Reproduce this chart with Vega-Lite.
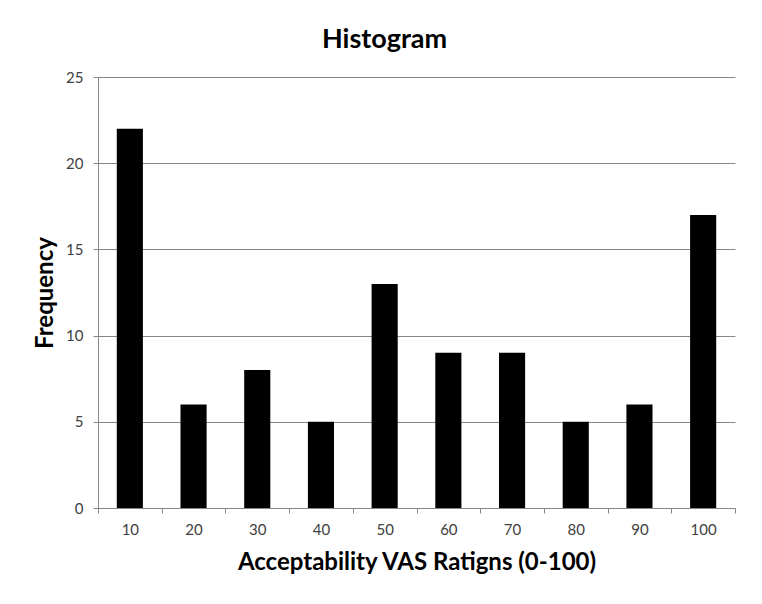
{
  "$schema": "https://vega.github.io/schema/vega-lite/v6.json",
  "width": 637,
  "height": 431,
  "autosize": {"type": "none"},
  "padding": {"left": 98, "top": 77, "right": 27, "bottom": 96},
  "background": "white",
  "title": {"text": "Histogram", "fontSize": 27, "font": "Lato", "fontWeight": "bold", "color": "black", "anchor": "middle", "frame": "bounds", "offset": 16},
  "data": {"values": [
    {"bin": "10", "count": 22},
    {"bin": "20", "count": 6},
    {"bin": "30", "count": 8},
    {"bin": "40", "count": 5},
    {"bin": "50", "count": 13},
    {"bin": "60", "count": 9},
    {"bin": "70", "count": 9},
    {"bin": "80", "count": 5},
    {"bin": "90", "count": 6},
    {"bin": "100", "count": 17}
  ]},
  "mark": {"type": "bar", "color": "black", "width": {"band": 0.41}},
  "encoding": {
    "x": {"field": "bin", "type": "ordinal", "sort": null,
      "scale": {"paddingInner": 0, "paddingOuter": 0},
      "axis": {"title": "Acceptability VAS Ratigns (0-100)", "labelAngle": 0, "tickBand": "extent", "grid": false,
        "domainColor": "#868686", "tickColor": "#868686", "tickSize": 5, "labelPadding": 9,
        "labelFont": "Lato", "labelFontSize": 15, "labelColor": "#404040",
        "titleFont": "Lato", "titleFontSize": 24, "titleFontWeight": "bold", "titleColor": "black", "titlePadding": 13}},
    "y": {"field": "count", "type": "quantitative",
      "scale": {"domain": [0, 25]},
      "axis": {"title": "Frequency", "values": [0, 5, 10, 15, 20, 25], "grid": true, "gridColor": "#868686",
        "domainColor": "#868686", "tickColor": "#868686", "tickSize": 5, "labelPadding": 10,
        "labelFont": "Lato", "labelFontSize": 15, "labelColor": "#404040",
        "titleFont": "Lato", "titleFontSize": 24, "titleFontWeight": "bold", "titleColor": "black", "titlePadding": 8}}
  },
  "config": {"view": {"stroke": null}}
}
